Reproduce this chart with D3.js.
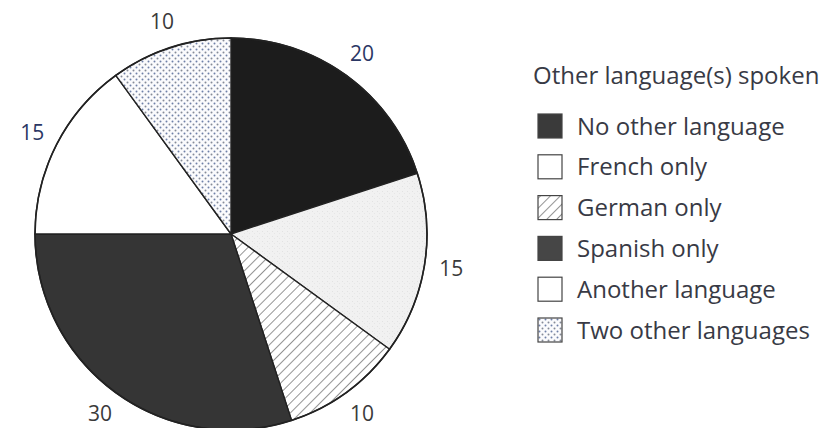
<!DOCTYPE html>
<html>
<head>
<meta charset="utf-8">
<script src="https://cdn.jsdelivr.net/npm/d3@7"></script>
<style>
  html, body { margin: 0; padding: 0; background: #fff; }
  svg { display: block; }
  text { font-family: "Open Sans", "Noto Sans", sans-serif; }
</style>
</head>
<body>
<svg id="chart" width="829" height="428"></svg>
<script>
// ---- data ----
const categories = ["No other language", "French only", "German only", "Spanish only", "Another language", "Two other languages"];
const values = [20, 15, 10, 30, 15, 10];
const labels = ["20", "15", "10", "30", "15", "10"];
const legendTitle = "Other language(s) spoken";

// ---- styling ----
const cx = 231, cy = 234, R = 196;
const svg = d3.select("#chart");
const defs = svg.append("defs");

// hatch pattern (German)
const hatch = defs.append("pattern").attr("id", "hatch")
  .attr("patternUnits", "userSpaceOnUse").attr("width", 7).attr("height", 7)
  .attr("patternTransform", "rotate(45)");
hatch.append("rect").attr("width", 7).attr("height", 7).attr("fill", "#fff");
hatch.append("line").attr("x1", 0).attr("y1", 0).attr("x2", 0).attr("y2", 7)
  .attr("stroke", "#3a3a3a").attr("stroke-width", 1.1);

// dot pattern (Two other languages)
const dots = defs.append("pattern").attr("id", "dots")
  .attr("patternUnits", "userSpaceOnUse").attr("width", 6).attr("height", 6);
dots.append("rect").attr("width", 6).attr("height", 6).attr("fill", "#fbfbfd");
dots.append("circle").attr("cx", 1.5).attr("cy", 1.5).attr("r", 1).attr("fill", "#6f80a8");
dots.append("circle").attr("cx", 4.5).attr("cy", 4.5).attr("r", 1).attr("fill", "#858b98");

// speckle (French)
const speck = defs.append("pattern").attr("id", "speck")
  .attr("patternUnits", "userSpaceOnUse").attr("width", 5).attr("height", 5);
speck.append("rect").attr("width", 5).attr("height", 5).attr("fill", "#f1f1f1");
speck.append("rect").attr("x", 1).attr("y", 2).attr("width", 1).attr("height", 1).attr("fill", "#e2e2e2");
speck.append("rect").attr("x", 3).attr("y", 4).attr("width", 1).attr("height", 1).attr("fill", "#e6e6e6");

const sliceFills = ["#1c1c1c", "url(#speck)", "url(#hatch)", "#353535", "#ffffff", "url(#dots)"];
const legendFills = ["#3a3a3a", "#ffffff", "url(#hatch)", "#464646", "#ffffff", "url(#dots)"];
const labelColors = ["#2b3764", "#3a3a3a", "#3a3a3a", "#3a3a3a", "#2b3764", "#3a3a3a"];

const color = d3.scaleOrdinal().domain(categories).range(sliceFills);
const legendColor = d3.scaleOrdinal().domain(categories).range(legendFills);

const pie = d3.pie().sort(null).value(d => d.value);
const data = categories.map((c, i) => ({ cat: c, value: values[i], label: labels[i], lc: labelColors[i] }));
const arcs = pie(data);

const arc = d3.arc().innerRadius(0).outerRadius(R);
const labelArc = d3.arc().innerRadius(223).outerRadius(223);

const g = svg.append("g").attr("transform", `translate(${cx},${cy})`);
g.selectAll("path.slice").data(arcs).enter().append("path")
  .attr("class", "slice")
  .attr("d", arc)
  .attr("fill", d => color(d.data.cat))
  .attr("stroke", "#222")
  .attr("stroke-width", 1.4)
  .attr("stroke-linejoin", "round");

g.append("circle").attr("r", R).attr("fill", "none").attr("stroke", "#222").attr("stroke-width", 1.6);

g.selectAll("text.lbl").data(arcs).enter().append("text")
  .attr("class", "lbl")
  .attr("x", d => labelArc.centroid(d)[0])
  .attr("y", d => labelArc.centroid(d)[1] + 7)
  .attr("text-anchor", "middle")
  .attr("font-size", 21)
  .attr("fill", d => d.data.lc)
  .text(d => d.data.label);

// ---- legend ----
const lg = svg.append("g");
lg.append("text").attr("x", 533).attr("y", 84)
  .attr("font-size", 24).attr("fill", "#383a45").text(legendTitle);

const rowY = d3.scalePoint().domain(categories).range([126, 330]);
const items = lg.selectAll("g.item").data(categories).enter().append("g")
  .attr("class", "item")
  .attr("transform", d => `translate(538,${rowY(d)})`);
items.append("rect").attr("x", 0).attr("y", -12).attr("width", 24).attr("height", 24)
  .attr("fill", d => legendColor(d)).attr("stroke", "#444").attr("stroke-width", 1.2);
items.append("text").attr("x", 39).attr("y", 8.5)
  .attr("font-size", 24).attr("fill", "#383a45")
  .text(d => d);
</script>
</body>
</html>
